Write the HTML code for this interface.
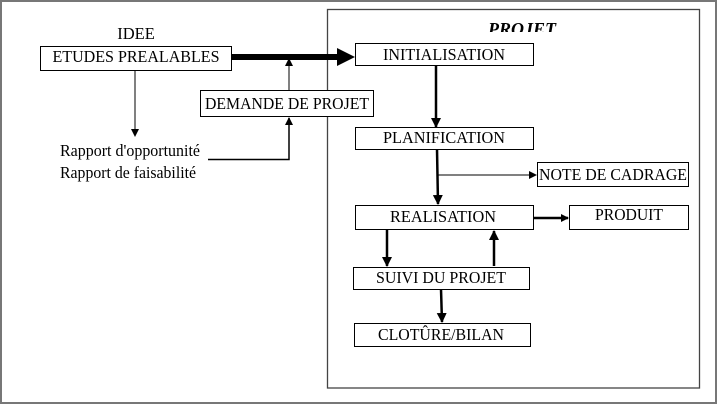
<!DOCTYPE html>
<html><head><meta charset="utf-8"><style>
html,body{margin:0;padding:0;background:#fff;}
svg{display:block;}
text{font-family:"Liberation Serif",serif;font-size:16.5px;fill:#000;}
</style></head><body>
<svg width="717" height="405" viewBox="0 0 717 405" xmlns="http://www.w3.org/2000/svg">
<defs>
<marker id="a" markerWidth="8" markerHeight="8" refX="7" refY="4" orient="auto" markerUnits="userSpaceOnUse"><path d="M0,0 L8,4 L0,8 z" fill="#000"/></marker>
<marker id="b" markerWidth="10" markerHeight="10" refX="9" refY="5" orient="auto" markerUnits="userSpaceOnUse"><path d="M0,0 L10,5 L0,10 z" fill="#000"/></marker>
<clipPath id="c"><rect x="0" y="0" width="717" height="32"/></clipPath>
</defs>
<rect x="1" y="1" width="715" height="402" fill="none" stroke="#777" stroke-width="2"/>
<rect x="327.5" y="9.5" width="372" height="378.5" fill="none" stroke="#444" stroke-width="1.3"/>
<text x="522" y="35" text-anchor="middle" font-weight="bold" font-style="italic" style="font-size:18px" clip-path="url(#c)">PROJET</text>

<text x="136" y="39" text-anchor="middle">IDEE</text>
<rect x="40.5" y="46.5" width="191" height="24" fill="#fff" stroke="#000"/>
<text x="136" y="62" text-anchor="middle" textLength="167" lengthAdjust="spacingAndGlyphs">ETUDES PREALABLES</text>

<line x1="232" y1="57" x2="338" y2="57" stroke="#000" stroke-width="6"/>
<path d="M337,48 L355,57 L337,66 z" fill="#000"/>

<line x1="135" y1="71" x2="135" y2="136" stroke="#000" stroke-width="1" marker-end="url(#a)"/>

<line x1="289" y1="90" x2="289" y2="59" stroke="#000" stroke-width="1" marker-end="url(#a)"/>
<rect x="200.5" y="90.5" width="173" height="26" fill="#fff" stroke="#000"/>
<text x="287" y="109" text-anchor="middle" textLength="164" lengthAdjust="spacingAndGlyphs">DEMANDE DE PROJET</text>

<text x="60" y="156" textLength="140" lengthAdjust="spacingAndGlyphs">Rapport d'opportunité</text>
<text x="60" y="178" textLength="136" lengthAdjust="spacingAndGlyphs">Rapport de faisabilité</text>
<polyline points="208,159.5 289,159.5 289,118" fill="none" stroke="#000" stroke-width="1.5" marker-end="url(#a)"/>

<rect x="355.5" y="43.5" width="178" height="22" fill="#fff" stroke="#000"/>
<text x="444" y="60" text-anchor="middle" textLength="122" lengthAdjust="spacingAndGlyphs">INITIALISATION</text>
<line x1="436" y1="66" x2="436" y2="127" stroke="#000" stroke-width="2.5" marker-end="url(#b)"/>

<rect x="355.5" y="127.5" width="178" height="22" fill="#fff" stroke="#000"/>
<text x="444" y="143" text-anchor="middle" textLength="122" lengthAdjust="spacingAndGlyphs">PLANIFICATION</text>
<line x1="437" y1="149" x2="438" y2="204" stroke="#000" stroke-width="2.5" marker-end="url(#b)"/>
<line x1="438" y1="175" x2="536" y2="175" stroke="#000" stroke-width="1" marker-end="url(#a)"/>
<rect x="537.5" y="162.5" width="151" height="24" fill="#fff" stroke="#000"/>
<text x="613" y="180" text-anchor="middle" textLength="148" lengthAdjust="spacingAndGlyphs">NOTE DE CADRAGE</text>

<rect x="355.5" y="205.5" width="178" height="24" fill="#fff" stroke="#000"/>
<text x="443" y="222" text-anchor="middle" textLength="106" lengthAdjust="spacingAndGlyphs">REALISATION</text>
<line x1="533" y1="218" x2="568" y2="218" stroke="#000" stroke-width="2.5" marker-end="url(#a)"/>
<rect x="569.5" y="205.5" width="119" height="24" fill="#fff" stroke="#000"/>
<text x="629" y="220" text-anchor="middle" textLength="68" lengthAdjust="spacingAndGlyphs">PRODUIT</text>

<line x1="387" y1="230" x2="387" y2="266" stroke="#000" stroke-width="2.5" marker-end="url(#b)"/>
<line x1="494" y1="266" x2="494" y2="231" stroke="#000" stroke-width="2.5" marker-end="url(#b)"/>

<rect x="353.5" y="267.5" width="176" height="22" fill="#fff" stroke="#000"/>
<text x="441" y="283" text-anchor="middle" textLength="130" lengthAdjust="spacingAndGlyphs">SUIVI DU PROJET</text>
<line x1="441" y1="289" x2="442" y2="322" stroke="#000" stroke-width="2.5" marker-end="url(#b)"/>

<rect x="354.5" y="323.5" width="176" height="23" fill="#fff" stroke="#000"/>
<text x="441" y="340" text-anchor="middle" textLength="126" lengthAdjust="spacingAndGlyphs">CLOTÛRE/BILAN</text>
</svg>
</body></html>
